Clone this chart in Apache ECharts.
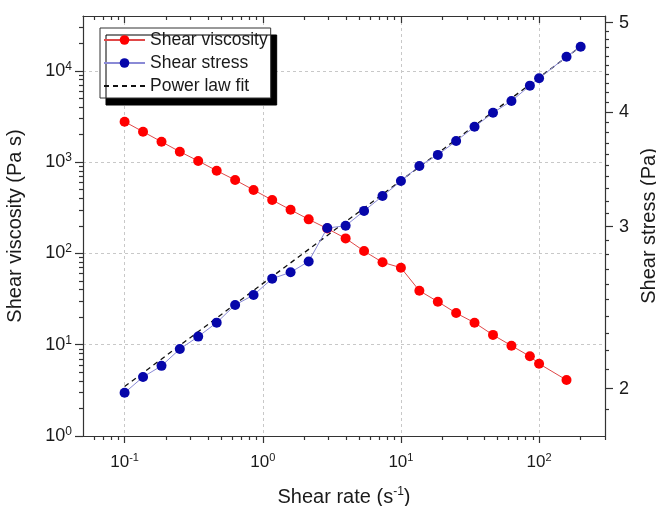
<!DOCTYPE html>
<html><head><meta charset="utf-8">
<script src="https://cdn.jsdelivr.net/npm/echarts@6/dist/echarts.min.js"></script>
<style>html,body{margin:0;padding:0;background:#fff}#c{width:656px;height:506px}</style>
</head><body><div id="c"></div>
<script>
// ---- data ----
const viscosityRate = [0.1, 0.136, 0.185, 0.251, 0.341, 0.464, 0.631, 0.858, 1.17, 1.59, 2.15, 2.93, 3.98, 5.41, 7.36, 10, 13.6, 18.5, 25.1, 34.1, 46.4, 63.1, 85.8, 100, 158];
const shearViscosity = [2770, 2150, 1670, 1300, 1030, 805, 637, 495, 384, 300, 236, 187, 146, 106, 79.8, 69.7, 39.0, 29.6, 22.2, 17.4, 12.8, 9.75, 7.46, 6.19, 4.10];
const stressRate = [0.1, 0.136, 0.185, 0.251, 0.341, 0.464, 0.631, 0.858, 1.17, 1.59, 2.15, 2.93, 3.98, 5.41, 7.36, 10, 13.6, 18.5, 25.1, 34.1, 46.4, 63.1, 85.8, 100, 158, 200];
const shearStress = [1.979, 2.059, 2.117, 2.208, 2.278, 2.359, 2.466, 2.528, 2.634, 2.676, 2.750, 2.990, 3.007, 3.121, 3.239, 3.363, 3.493, 3.591, 3.718, 3.853, 3.991, 4.110, 4.271, 4.351, 4.592, 4.709];
const fitRate = [0.1, 200];
const fitStress = [2.01, 4.71];
const xTicks = [0.1, 1, 10, 100];
const yLeftTicks = [1, 10, 100, 1000, 10000];
const yRightTicks = [2, 3, 4, 5];

// minor tick positions (axis decoration)
function logMinor(lo, hi) { const out = []; for (let d = -3; d <= 6; d++) { for (let m = 2; m <= 9; m++) { const v = +(m * Math.pow(10, d)).toPrecision(6); if (v > lo && v < hi) out.push(v); } } return out; }
const xMinor = logMinor(0.05, 300.0001);
const yLeftMinor = logMinor(1, 39810);
const yRightMinor = [];
for (let i = 19; i <= 50; i++) { if (i % 10 !== 0) yRightMinor.push(i / 10); }

const FONT = "'Liberation Sans', Arial, sans-serif";
const TXT = '#1a1a1a';
const AX = '#333';
const supRich = { sup: { fontSize: 11, lineHeight: 11, verticalAlign: 'top', fontFamily: FONT, color: TXT } };
const supRichY = { sup: { fontSize: 12, lineHeight: 12, verticalAlign: 'top', fontFamily: FONT, color: TXT } };
function supLabel(v) { return '10{sup|' + Math.round(Math.log10(v)) + '}'; }

const X_MIN = 0.05, X_MAX = 300, YL_MIN = 1, YL_MAX = 39810, YR_MIN = 1.776, YR_MAX = 5.085;

function overlayX(pos, inside, len, ticks, line) {
  return { type: 'log', position: pos, min: X_MIN, max: X_MAX,
    axisLine: { show: line, lineStyle: { color: AX, width: 1.2 } },
    axisTick: { show: true, inside: inside, length: len, customValues: ticks, lineStyle: { color: AX, width: 1.2 } },
    axisLabel: { show: false }, splitLine: { show: false }, minorTick: { show: false } };
}
function overlayY(pos, min, max, len, ticks) {
  return { type: 'log', position: pos, min: min, max: max,
    axisLine: { show: false },
    axisTick: { show: true, inside: false, length: len, customValues: ticks, lineStyle: { color: AX, width: 1.2 } },
    axisLabel: { show: false }, splitLine: { show: false }, minorTick: { show: false } };
}

const chart = echarts.init(document.getElementById('c'), null, { renderer: 'canvas' });
chart.setOption({
  animation: false,
  backgroundColor: '#fff',
  textStyle: { fontFamily: FONT },
  grid: { left: 83, right: 51, top: 16, bottom: 70, containLabel: false, outerBoundsMode: 'none' },
  legend: {
    orient: 'vertical', left: 100, top: 28,
    itemWidth: 41, itemHeight: 12, itemGap: 5,
    padding: [3, 3, 3, 3],
    backgroundColor: '#fff', borderColor: '#333', borderWidth: 1, borderRadius: 0,
    shadowColor: '#000', shadowBlur: 0, shadowOffsetX: 6, shadowOffsetY: 7,
    textStyle: { fontSize: 17.5, color: TXT, fontFamily: FONT, lineHeight: 18 },
    data: ['Shear viscosity', 'Shear stress', { name: 'Power law fit', itemStyle: { opacity: 0 } }],
    selectedMode: false
  },
  xAxis: [
    { type: 'log', position: 'bottom', min: X_MIN, max: X_MAX,
      name: 'Shear rate (s{sup|-1})', nameLocation: 'middle', nameGap: 50,
      nameTextStyle: { fontSize: 20, color: TXT, fontFamily: FONT, lineHeight: 22,
        rich: { sup: { fontSize: 12, lineHeight: 12, verticalAlign: 'top', fontFamily: FONT, color: TXT } } },
      axisLine: { show: true, lineStyle: { color: AX, width: 1.2 } },
      axisTick: { show: true, inside: false, length: 7, customValues: xTicks, lineStyle: { color: AX, width: 1.2 } },
      axisLabel: { customValues: xTicks, formatter: supLabel, margin: 16, fontSize: 17, lineHeight: 20, color: TXT, fontFamily: FONT, rich: supRich },
      splitLine: { show: true, lineStyle: { color: '#c8c8c8', width: 1, type: [3, 3] } },
      minorTick: { show: false } },
    overlayX('bottom', false, 4, xMinor, false),
    overlayX('top', true, 7, xTicks, true),
    overlayX('top', true, 4, xMinor, false)
  ],
  yAxis: [
    { type: 'log', position: 'left', min: YL_MIN, max: YL_MAX,
      name: 'Shear viscosity (Pa s)', nameLocation: 'middle', nameGap: 58,
      nameTextStyle: { fontSize: 20, color: TXT, fontFamily: FONT },
      axisLine: { show: true, lineStyle: { color: AX, width: 1.2 } },
      axisTick: { show: true, inside: false, length: 8, customValues: yLeftTicks, lineStyle: { color: AX, width: 1.2 } },
      axisLabel: { customValues: yLeftTicks, formatter: supLabel, margin: 11, fontSize: 18, lineHeight: 21, color: TXT, fontFamily: FONT, rich: supRichY },
      splitLine: { show: true, lineStyle: { color: '#c8c8c8', width: 1, type: [3, 3] } },
      minorTick: { show: false } },
    overlayY('left', YL_MIN, YL_MAX, 4, yLeftMinor),
    { type: 'log', position: 'right', min: YR_MIN, max: YR_MAX,
      name: 'Shear stress (Pa)', nameLocation: 'middle', nameGap: 33,
      nameTextStyle: { fontSize: 20, color: TXT, fontFamily: FONT },
      axisLine: { show: true, lineStyle: { color: AX, width: 1.2 } },
      axisTick: { show: true, inside: false, length: 8, customValues: yRightTicks, lineStyle: { color: AX, width: 1.2 } },
      axisLabel: { customValues: yRightTicks, formatter: function (v) { return String(Math.round(v)); }, margin: 14, fontSize: 18, color: TXT, fontFamily: FONT },
      splitLine: { show: false }, minorTick: { show: false } },
    overlayY('right', YR_MIN, YR_MAX, 4, yRightMinor)
  ],
  series: [
    { name: 'Shear viscosity', type: 'line', xAxisIndex: 0, yAxisIndex: 0, z: 3,
      data: viscosityRate.map((x, i) => [x, shearViscosity[i]]),
      symbol: 'circle', symbolSize: 10, showSymbol: true,
      itemStyle: { color: '#ff0000' }, lineStyle: { color: '#e04848', width: 1 } },
    { name: 'Shear stress', type: 'line', xAxisIndex: 0, yAxisIndex: 2, z: 4,
      data: stressRate.map((x, i) => [x, shearStress[i]]),
      symbol: 'circle', symbolSize: 10, showSymbol: true,
      itemStyle: { color: '#0606aa' }, lineStyle: { color: '#8a8ad6', width: 1 } },
    { name: 'Power law fit', type: 'line', xAxisIndex: 0, yAxisIndex: 2, z: 2,
      data: fitRate.map((x, i) => [x, fitStress[i]]),
      symbol: 'none', showSymbol: false,
      itemStyle: { color: '#111' }, lineStyle: { color: '#111', width: 1.3, type: [5, 4] } }
  ]
});
</script>
</body></html>
